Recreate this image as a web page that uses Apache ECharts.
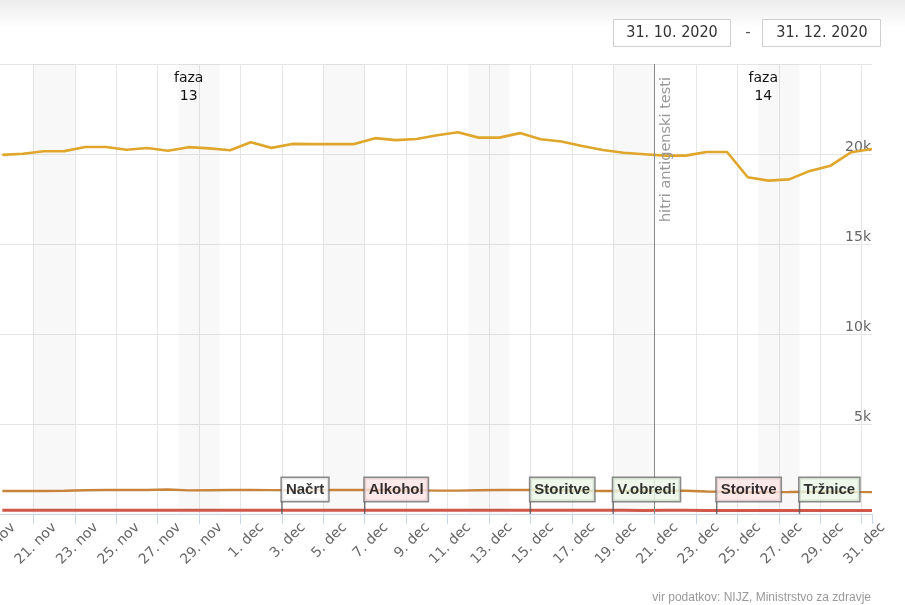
<!DOCTYPE html>
<html>
<head>
<meta charset="utf-8">
<script src="https://cdn.jsdelivr.net/npm/echarts@6/dist/echarts.min.js"></script>
<style>
  html, body { margin: 0; padding: 0; background: #fff; }
  #chart { width: 905px; height: 605px; }
</style>
</head>
<body>
<div id="chart"></div>
<script>
// days are counted from 1. nov 2020 (0 = 1. nov), points sit at noon
const firstDay = 18; // 19. nov

const tickLabels = ['19. nov', '21. nov', '23. nov', '25. nov', '27. nov', '29. nov',
  '1. dec', '3. dec', '5. dec', '7. dec', '9. dec', '11. dec', '13. dec', '15. dec',
  '17. dec', '19. dec', '21. dec', '23. dec', '25. dec', '27. dec', '29. dec', '31. dec'];

// 19. nov .. 31. dec
const activeCases = [19950, 20010, 20150, 20160, 20390, 20390, 20240, 20330, 20180, 20380,
  20310, 20210, 20650, 20340, 20560, 20550, 20550, 20550, 20880, 20770,
  20830, 21040, 21210, 20910, 20910, 21160, 20820, 20690, 20440, 20220,
  20070, 19990, 19910, 19910, 20110, 20110, 18710, 18520, 18590, 19060,
  19350, 20100, 20280];
const hospitalized = [1280, 1280, 1275, 1290, 1320, 1330, 1330, 1335, 1360, 1310,
  1320, 1330, 1330, 1325, 1320, 1320, 1330, 1330, 1340, 1320,
  1310, 1300, 1300, 1320, 1330, 1340, 1330, 1310, 1290, 1280,
  1280, 1290, 1300, 1290, 1250, 1240, 1210, 1215, 1220, 1240,
  1250, 1230, 1215];
const icu = [205, 206, 208, 205, 204, 206, 207, 205, 204, 203,
  205, 206, 207, 206, 205, 204, 203, 205, 206, 207,
  208, 206, 205, 204, 203, 205, 206, 207, 205, 203,
  202, 201, 203, 204, 200, 198, 196, 195, 197, 198,
  196, 195, 194];

const weekendStarts = [20, 27, 34, 41, 48, 55];

const flagDays = [32, 36, 44, 48, 53, 57];
const flagNames = ['Načrt', 'Alkohol', 'Storitve', 'V.obredi', 'Storitve', 'Tržnice'];
const flagColors = ['#ffffff', '#fde4e4', '#eaf7e7', '#eaf7e7', '#fde4e4', '#eaf7e7'];

const phaseDays = [27.5, 55.25];
const phaseNames = ['faza\n13', 'faza\n14'];

const testDay = 50; // 21. dec
const testLabel = 'hitri antigenski testi';

const dateFrom = '31. 10. 2020';
const dateTo = '31. 12. 2020';
const sourceText = 'vir podatkov: NIJZ, Ministrstvo za zdravje';

const font = 'DejaVu Sans';

function toPoints(values) {
  return values.map((v, i) => [firstDay + i + 0.5, v]);
}

const chart = echarts.init(document.getElementById('chart'));

const option = {
  animation: false,
  textStyle: { fontFamily: font },
  grid: { left: -8, right: 33, top: 64, bottom: 91, containLabel: false, outerBoundsMode: 'none' },
  xAxis: {
    type: 'value',
    min: 18,
    max: 60.5,
    interval: 2,
    axisLine: { show: true, onZero: false, lineStyle: { color: '#ccd6eb', width: 1 } },
    axisTick: { show: true, length: 10, lineStyle: { color: '#ccd6eb' } },
    axisLabel: {
      rotate: 45,
      margin: -10,
      align: 'right',
      verticalAlign: 'top',
      padding: [23, 0, 0, 0],
      color: '#666',
      fontSize: 14,
      fontFamily: font,
      formatter: function (v) {
        if (Number.isInteger(v) && (v - 18) % 2 === 0) {
          return tickLabels[(v - 18) / 2] || '';
        }
        return '';
      }
    },
    splitLine: { show: true, showMaxLine: false, lineStyle: { color: '#e6e6e6' } }
  },
  yAxis: {
    type: 'value',
    position: 'right',
    min: 0,
    max: 25000,
    interval: 5000,
    axisLine: { show: false },
    axisTick: { show: false },
    axisLabel: {
      inside: true,
      margin: 1,
      verticalAlign: 'bottom',
      color: '#666',
      fontSize: 14,
      fontFamily: font,
      formatter: function (v) {
        return (v === 0 || v === 25000) ? '' : (v / 1000) + 'k';
      }
    },
    splitLine: { show: true, lineStyle: { color: '#e6e6e6' } }
  },
  series: [
    {
      name: 'aktivni primeri',
      type: 'line',
      data: toPoints(activeCases),
      showSymbol: false,
      z: 3,
      lineStyle: { color: '#dfa62b', width: 2.6 },
      itemStyle: { color: '#dfa62b' },
      emphasis: { disabled: true },
      markArea: {
        silent: true,
        itemStyle: { color: 'rgba(0,0,0,0.028)' },
        data: weekendStarts.map(d => [{ xAxis: d }, { xAxis: d + 2 }])
      },
      markLine: {
        silent: true,
        symbol: ['none', 'none'],
        lineStyle: { color: '#888', width: 1, type: 'solid' },
        label: {
          show: true,
          formatter: testLabel,
          position: 'insideEndBottom',
          distance: [13, 4],
          color: '#999',
          fontSize: 14.5,
          fontFamily: font
        },
        data: [{ xAxis: testDay }]
      },
      markPoint: {
        silent: true,
        symbol: 'circle',
        symbolSize: 0,
        label: {
          show: true,
          position: 'inside',
          formatter: '{b}',
          color: '#111',
          fontSize: 14,
          lineHeight: 18,
          fontFamily: font
        },
        data: phaseDays.map((d, i) => ({ name: phaseNames[i], coord: [d, 23700] }))
      }
    },
    {
      name: 'hospitalizirani',
      type: 'line',
      data: toPoints(hospitalized),
      showSymbol: false,
      z: 2,
      lineStyle: { color: '#c8843a', width: 2.4 },
      itemStyle: { color: '#c8843a' },
      emphasis: { disabled: true }
    },
    {
      name: 'intenzivna nega',
      type: 'line',
      data: toPoints(icu),
      showSymbol: false,
      z: 2,
      lineStyle: { color: '#cf584a', width: 3 },
      itemStyle: { color: '#cf584a' },
      emphasis: { disabled: true }
    },
    {
      name: 'ukrepi',
      type: 'scatter',
      z: 6,
      silent: true,
      clip: false,
      symbol: 'rect',
      symbolSize: [1.5, 13],
      symbolOffset: [0, -6.5],
      itemStyle: { color: '#555' },
      emphasis: { disabled: true },
      label: {
        show: true,
        position: 'top',
        distance: 0,
        align: 'left',
        formatter: '{b}',
        color: '#000',
        fontWeight: 'bold',
        fontSize: 15,
        fontFamily: 'Liberation Sans',
        lineHeight: 18,
        padding: [3, 4, 2, 4],
        borderColor: '#6b6b6b',
        borderWidth: 1.5
      },
      data: flagDays.map((d, i) => ({
        name: flagNames[i],
        value: [d, 0],
        label: { backgroundColor: flagColors[i] }
      }))
    }
  ],
  graphic: [
    {
      type: 'rect', silent: true, z: -10,
      shape: { x: 0, y: 0, width: 905, height: 28 },
      style: {
        fill: new echarts.graphic.LinearGradient(0, 0, 0, 1, [
          { offset: 0, color: '#ececec' }, { offset: 1, color: '#ffffff' }
        ])
      }
    },
    {
      type: 'rect', silent: true,
      shape: { x: 613.5, y: 19.5, width: 117, height: 27 },
      style: { fill: '#fff', stroke: '#cfcfcf', lineWidth: 1 }
    },
    {
      type: 'text', silent: true, x: 672, y: 33,
      style: { text: dateFrom, align: 'center', verticalAlign: 'middle', fill: '#333', font: '16px "DejaVu Sans Condensed", "DejaVu Sans"' }
    },
    {
      type: 'text', silent: true, x: 748, y: 33,
      style: { text: '-', align: 'center', verticalAlign: 'middle', fill: '#555', font: '15px "DejaVu Sans"' }
    },
    {
      type: 'rect', silent: true,
      shape: { x: 762.5, y: 19.5, width: 118, height: 27 },
      style: { fill: '#fff', stroke: '#cfcfcf', lineWidth: 1 }
    },
    {
      type: 'text', silent: true, x: 822, y: 33,
      style: { text: dateTo, align: 'center', verticalAlign: 'middle', fill: '#333', font: '16px "DejaVu Sans Condensed", "DejaVu Sans"' }
    },
    {
      type: 'text', silent: true, x: 871, y: 598,
      style: { text: sourceText, align: 'right', verticalAlign: 'middle', fill: '#999', font: '12px "Liberation Sans"' }
    }
  ]
};

chart.setOption(option);
</script>
</body>
</html>
